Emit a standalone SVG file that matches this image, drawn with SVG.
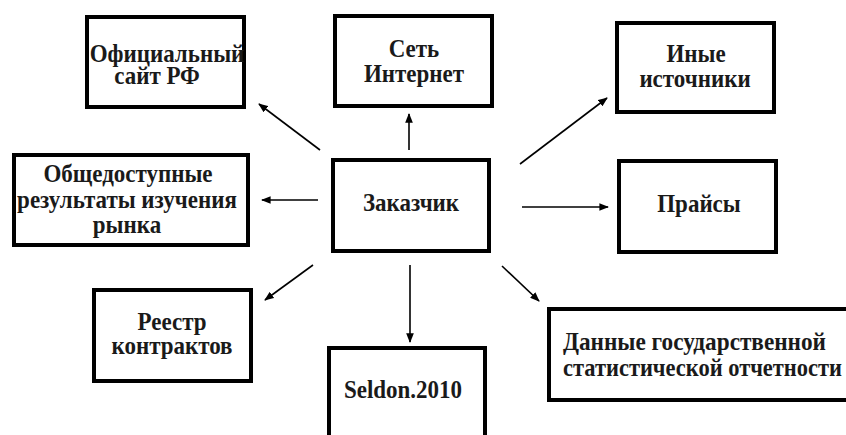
<svg xmlns="http://www.w3.org/2000/svg" width="846" height="435" viewBox="0 0 846 435">
<style>
.box{fill:#fff;stroke:#000;stroke-width:4}
.t{font-family:"Liberation Serif","Times New Roman",serif;font-weight:bold;font-size:23px;fill:#1a1a1a;text-anchor:middle}
.s{text-anchor:start}
.c{stroke:#000;stroke-width:1.6;fill:none;marker-end:url(#ah)}
</style>
<defs>
<marker id="ah" viewBox="0 0 10 8" refX="9" refY="4" markerWidth="6" markerHeight="5" markerUnits="strokeWidth" orient="auto">
<path d="M0,0 L10,4 L0,8 z" fill="#000"/>
</marker>
</defs>
<rect width="846" height="435" fill="#fff"/>
<g id="connectors">
<line class="c" x1="320" y1="150" x2="259" y2="104"/>
<line class="c" x1="409" y1="150" x2="409" y2="114"/>
<line class="c" x1="520" y1="164" x2="607" y2="98"/>
<line class="c" x1="318" y1="200" x2="262" y2="200"/>
<line class="c" x1="522" y1="207" x2="608" y2="207"/>
<line class="c" x1="313" y1="265" x2="265" y2="300"/>
<line class="c" x1="410" y1="265" x2="410" y2="342"/>
<line class="c" x1="502" y1="266" x2="539" y2="301"/>
</g>
<g id="n1"><rect class="box" x="87" y="17" width="157" height="90"/>
<text class="t" transform="translate(167,62) scale(1,1.1)">Официальный</text><text class="t" transform="translate(157,84) scale(1,1.1)">сайт РФ</text></g>
<g id="n2"><rect class="box" x="335" y="16" width="157" height="90"/>
<text class="t" transform="translate(414,57) scale(1,1.1)">Сеть</text><text class="t" transform="translate(414,82) scale(1,1.1)">Интернет</text></g>
<g id="n3"><rect class="box" x="617" y="23" width="157" height="89"/>
<text class="t" transform="translate(696,62) scale(1,1.1)">Иные</text><text class="t" transform="translate(695,87) scale(1,1.1)">источники</text></g>
<g id="n4"><rect class="box" x="14" y="155" width="234" height="90"/>
<text class="t" transform="translate(128,182) scale(1,1.1)">Общедоступные</text><text class="t" transform="translate(127,208) scale(1,1.1)">результаты изучения</text><text class="t" transform="translate(127,233) scale(1,1.1)">рынка</text></g>
<g id="n5"><rect class="box" x="333" y="160" width="156" height="91"/>
<text class="t" transform="translate(411,211) scale(1,1.1)">Заказчик</text></g>
<g id="n6"><rect class="box" x="619" y="161" width="157" height="91"/>
<text class="t" transform="translate(699,212) scale(1,1.1)">Прайсы</text></g>
<g id="n7"><rect class="box" x="94" y="290" width="157" height="91"/>
<text class="t" transform="translate(172,330) scale(1,1.1)">Реестр</text><text class="t" transform="translate(172,354) scale(1,1.1)">контрактов</text></g>
<g id="n8"><rect class="box" x="329" y="348" width="156" height="100"/>
<text class="t" transform="translate(403,398) scale(1,1.1)">Seldon.2010</text></g>
<g id="n9"><rect class="box" x="549" y="309" width="310" height="91"/>
<text class="t s" transform="translate(563,350) scale(1,1.1)" textLength="263" lengthAdjust="spacingAndGlyphs">Данные государственной</text><text class="t s" transform="translate(563,376) scale(1,1.1)" textLength="279" lengthAdjust="spacingAndGlyphs">статистической отчетности</text></g>
</svg>
